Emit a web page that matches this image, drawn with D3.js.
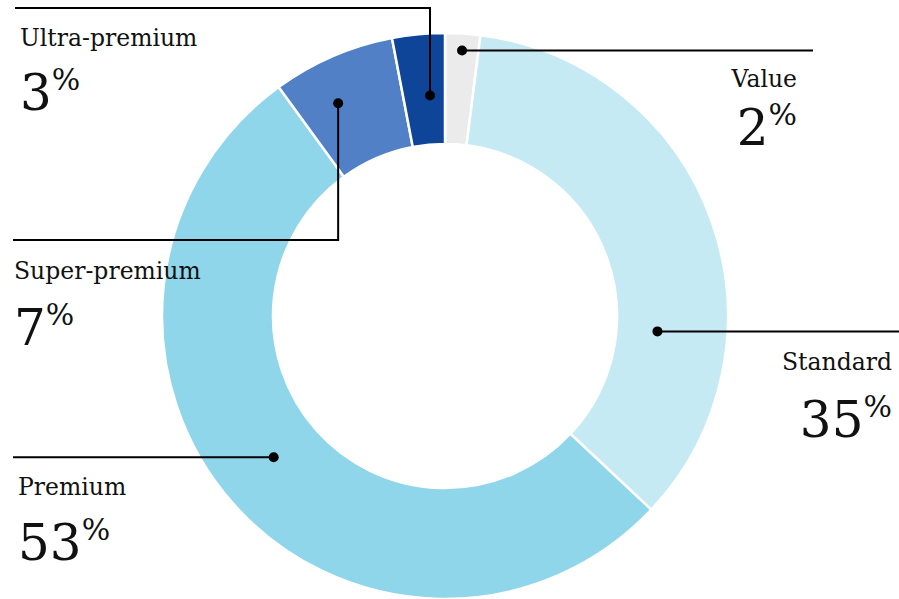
<!DOCTYPE html>
<html>
<head>
<meta charset="utf-8">
<script src="https://cdn.jsdelivr.net/npm/d3@7"></script>
<style>
  html, body { margin: 0; padding: 0; background: #fff; }
  svg { display: block; }
  .lbl { font-family: "DejaVu Serif", Georgia, serif; fill: #111; }
</style>
</head>
<body>
<svg id="chart" width="899" height="599"></svg>
<script>
// Market share by price segment
const categories = ["Value", "Standard", "Premium", "Super-premium", "Ultra-premium"];
const shares = [2, 35, 53, 7, 3];
const colors = ["#ebebeb", "#c6eaf4", "#90d6ea", "#5180c7", "#0e4598"];

// Callout geometry: where each leader starts inside its slice and where it ends
const anchorFrac = [0.51, 0.69, 0.51, 0.37, 0.64];   // share of the slice's sweep
const anchorRad  = [266, 213, 222, 238, 221];         // distance from centre
const leaderEnd  = [
  { type: "h", x: 813 },
  { type: "h", x: 899 },
  { type: "h", x: 13 },
  { type: "v", y: 240, x: 13 },
  { type: "v", y: 8, x: 15 }
];
const textPos = [
  { x: 797, y: 87,  ny: 145, anchor: "end" },
  { x: 892, y: 370, ny: 437, anchor: "end" },
  { x: 18,  y: 495, ny: 560, anchor: "start" },
  { x: 14,  y: 279, ny: 345, anchor: "start" },
  { x: 20,  y: 46,  ny: 110, anchor: "start" }
];

const svg = d3.select("#chart");
const cx = 445, cy = 316, rOuter = 283, rInner = 172;

const data = categories.map((c, i) => ({ name: c, value: shares[i], color: colors[i], i }));
const pie = d3.pie().sort(null).value(d => d.value);
const arc = d3.arc().innerRadius(rInner).outerRadius(rOuter);
const arcs = pie(data);

const g = svg.append("g").attr("transform", `translate(${cx},${cy})`);
g.selectAll("path.slice")
  .data(arcs)
  .join("path")
  .attr("class", "slice")
  .attr("d", arc)
  .attr("fill", d => d.data.color)
  .attr("stroke", "#fff")
  .attr("stroke-width", 2.5);

// Leader lines and dots
arcs.forEach(a => {
  const i = a.data.i;
  const ang = a.startAngle + (a.endAngle - a.startAngle) * anchorFrac[i];
  const px = cx + anchorRad[i] * Math.sin(ang);
  const py = cy - anchorRad[i] * Math.cos(ang);
  const e = leaderEnd[i];
  let pts;
  if (e.type === "h") pts = [[px, py], [e.x, py]];
  else pts = [[px, py], [px, e.y], [e.x, e.y]];
  svg.append("path")
    .attr("d", d3.line()(pts))
    .attr("fill", "none")
    .attr("stroke", "#000")
    .attr("stroke-width", 2);
  svg.append("circle")
    .attr("cx", px).attr("cy", py).attr("r", 5)
    .attr("fill", "#000");
});

// Category names and percentages
arcs.forEach(a => {
  const i = a.data.i;
  const t = textPos[i];
  svg.append("text")
    .attr("class", "lbl")
    .attr("x", t.x).attr("y", t.y)
    .attr("text-anchor", t.anchor)
    .attr("font-size", 23.5)
    .text(a.data.name);
  const num = svg.append("text")
    .attr("class", "lbl")
    .attr("x", t.x).attr("y", t.ny)
    .attr("text-anchor", t.anchor)
    .attr("font-size", 50);
  num.append("tspan").text(a.data.value);
  num.append("tspan")
    .attr("font-size", 30)
    .attr("dy", -20)
    .text("%");
});
</script>
</body>
</html>
